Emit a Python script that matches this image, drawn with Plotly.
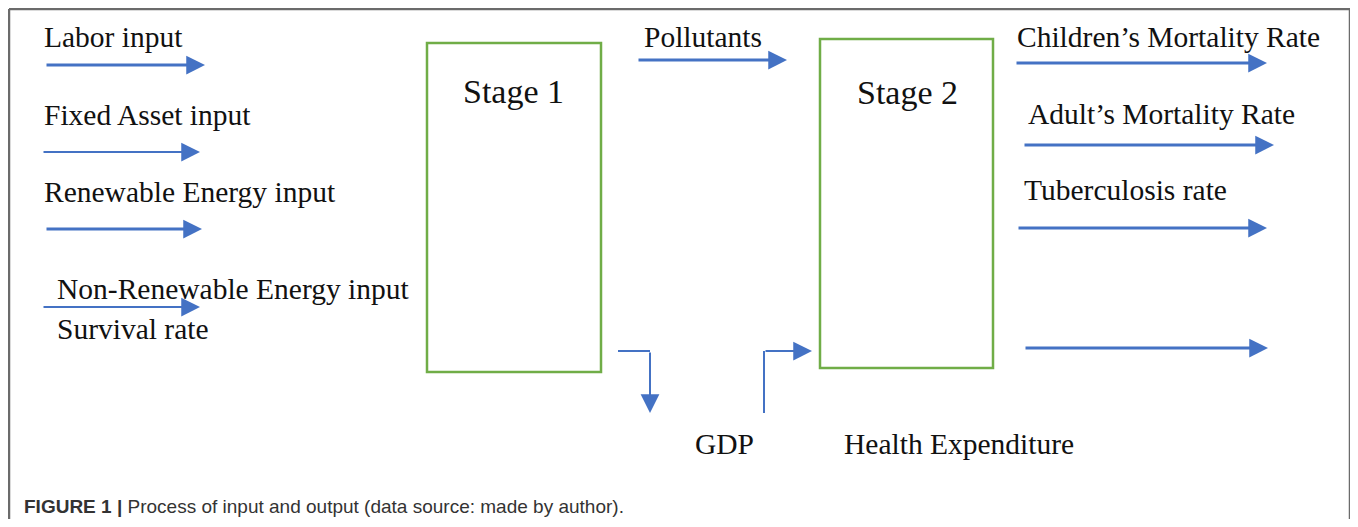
import plotly.graph_objects as go

# ---- diagram content ----
input_labels = ["Labor input", "Fixed Asset input", "Renewable Energy input",
                "Non-Renewable Energy input", "Survival rate"]
stage_labels = ["Stage 1", "Stage 2"]
output_labels = ["Children\u2019s Mortality Rate", "Adult\u2019s Mortality Rate", "Tuberculosis rate"]
middle_labels = ["Pollutants", "GDP", "Health Expenditure"]
caption_bold = "FIGURE 1 |"
caption_text = " Process of input and output (data source: made by author)."

# ---- geometry (pixel coordinates on a 1358 x 527 canvas) ----
input_label_x = [42, 42, 42, 55, 55]
input_label_y = [37, 115, 192, 289, 329]
input_arrows = [  # (x0, x1, y, width)
    (45, 205, 65, 3.0),
    (42, 200, 152, 2.0),
    (45, 202, 229, 3.0),
    (42, 200, 307, 2.0),
]
stage_boxes = [(427, 601, 43, 372), (820, 993, 39, 368)]
stage_label_pos = [(513, 91), (907, 92)]
output_label_x = [1015, 1026, 1022]
output_label_y = [37, 114, 190]
output_arrows = [
    (1015, 1267, 63, 3.0),
    (1023, 1274, 145, 3.0),
    (1017, 1267, 228, 3.0),
    (1024, 1268, 348, 3.0),
]
middle_label_pos = [(642, 37), (693, 444), (842, 444)]
pollutant_arrow = (637, 787, 60, 3.0)
gdp_out_path = [(618, 351), (650, 351), (650, 413)]
health_in_path = [(764, 413), (764, 351), (812, 351)]
frame_box = (9, 1350, 9, 560)

BLUE = "#4472C4"
GREEN = "#70AD47"
SERIF = "Liberation Serif, Times New Roman, serif"
SANS = "Liberation Sans, Arial, sans-serif"

# the page body has an 8px margin, so the figure is placed at (8, 8)
OFF = 8
W, H = 1358, 527
FIG_W, FIG_H = W - OFF, H - 2 * OFF   # avoid any page scrolling


def px(X):
    return (X - OFF) / FIG_W


def py(Y):
    return 1 - (Y - OFF) / FIG_H


fig = go.Figure()
shapes = []
annotations = []

# outer frame (paper coordinates so it is not clipped to the plot area)
fx0, fx1, fy0, fy1 = frame_box
for (a, b, c, d) in [(fx0, fx1, fy0, fy0), (fx0, fx0, fy0, fy1), (fx1, fx1, fy0, fy1)]:
    shapes.append(dict(type="line", xref="paper", yref="paper",
                       x0=px(a), x1=px(b), y0=py(c), y1=py(d),
                       line=dict(color="#6b6b6b", width=2.5)))

# stage boxes
for (x0, x1, y0, y1) in stage_boxes:
    shapes.append(dict(type="rect", x0=x0, x1=x1, y0=y0, y1=y1,
                       line=dict(color=GREEN, width=2.5), fillcolor="rgba(0,0,0,0)"))


def arrow(x0, y0, x1, y1, w):
    annotations.append(dict(x=x1, y=y1, ax=x0, ay=y0, xref="x", yref="y",
                            axref="x", ayref="y", text="", showarrow=True,
                            arrowhead=2, arrowsize=3.0 / w * 1.25, arrowwidth=w,
                            arrowcolor=BLUE, standoff=0, startstandoff=0))


for (x0, x1, y, w) in input_arrows + output_arrows + [pollutant_arrow]:
    arrow(x0, y, x1, y, w)

for path in (gdp_out_path, health_in_path):
    (ax0, ay0), (ax1, ay1), (ax2, ay2) = path
    shapes.append(dict(type="line", x0=ax0, y0=ay0, x1=ax1, y1=ay1,
                       line=dict(color=BLUE, width=2)))
    arrow(ax1, ay1, ax2, ay2, 2.0)


def label(txt, x, y, size, anchor="left", family=SERIF):
    annotations.append(dict(x=x, y=y, xref="x", yref="y", text=txt, showarrow=False,
                            xanchor=anchor, yanchor="middle",
                            font=dict(family=family, size=size, color="#111111")))


for txt, x, y in zip(input_labels, input_label_x, input_label_y):
    label(txt, x, y, 29.5)
for txt, x, y in zip(output_labels, output_label_x, output_label_y):
    label(txt, x, y, 29.5)
for txt, (x, y) in zip(middle_labels, middle_label_pos):
    label(txt, x, y, 29.5)
for txt, (x, y) in zip(stage_labels, stage_label_pos):
    label(txt, x, y, 34, anchor="center")

# caption
annotations.append(dict(x=22, y=506, xref="x", yref="y", showarrow=False,
                        xanchor="left", yanchor="middle",
                        text="<b>" + caption_bold + "</b>" + caption_text,
                        font=dict(family=SANS, size=19, color="#333333")))

fig.update_layout(
    width=FIG_W, height=FIG_H,
    margin=dict(l=0, r=0, t=0, b=0),
    paper_bgcolor="white", plot_bgcolor="white",
    xaxis=dict(range=[OFF, OFF + FIG_W], visible=False, fixedrange=True),
    yaxis=dict(range=[OFF + FIG_H, OFF], visible=False, fixedrange=True),
    shapes=shapes, annotations=annotations, showlegend=False,
)

fig.write_html("out.html", config={"displayModeBar": False})
